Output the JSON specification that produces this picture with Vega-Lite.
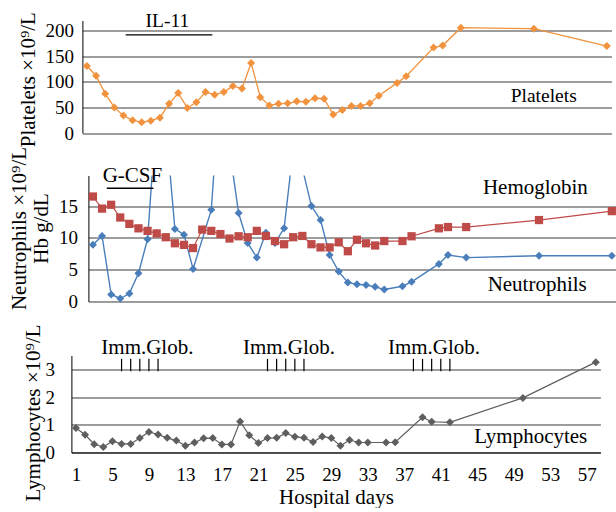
{
  "$schema": "https://vega.github.io/schema/vega-lite/v6.json",
  "background": "white",
  "padding": {"left": 8.4, "top": 10.5, "right": 0, "bottom": 0},
  "bounds": "flush",
  "spacing": 0,
  "config": {
    "font": "Liberation Serif",
    "view": {"stroke": null},
    "axis": {
      "labelFont": "Liberation Serif", "titleFont": "Liberation Serif",
      "labelFontSize": 19, "titleFontSize": 21, "titleFontWeight": "normal",
      "labelColor": "black", "titleColor": "black",
      "domainColor": "black", "domainWidth": 1,
      "gridColor": "#3a3a3a", "gridWidth": 1, "gridOpacity": 1,
      "tickColor": "black", "labelOverlap": false
    },
    "text": {"font": "Liberation Serif", "fontSize": 21, "color": "black"}
  },
  "datasets": {
    "platelets": [
      {"day": 1, "value": 131}, {"day": 2, "value": 112}, {"day": 3, "value": 77}, {"day": 4, "value": 50},
      {"day": 5, "value": 34}, {"day": 6, "value": 25}, {"day": 7, "value": 21}, {"day": 8, "value": 24},
      {"day": 9, "value": 30}, {"day": 10, "value": 57}, {"day": 11, "value": 78}, {"day": 12, "value": 49},
      {"day": 13, "value": 60}, {"day": 14, "value": 80}, {"day": 15, "value": 75}, {"day": 16, "value": 80},
      {"day": 17, "value": 92}, {"day": 18, "value": 87}, {"day": 19, "value": 137}, {"day": 20, "value": 70},
      {"day": 21, "value": 54}, {"day": 22, "value": 57}, {"day": 23, "value": 58}, {"day": 24, "value": 62},
      {"day": 25, "value": 61}, {"day": 26, "value": 68}, {"day": 27, "value": 67}, {"day": 28, "value": 36},
      {"day": 29, "value": 45}, {"day": 30, "value": 53}, {"day": 31, "value": 53}, {"day": 32, "value": 58},
      {"day": 33, "value": 73}, {"day": 35, "value": 98}, {"day": 36, "value": 111}, {"day": 39, "value": 167},
      {"day": 40, "value": 171}, {"day": 42, "value": 206}, {"day": 50, "value": 204}, {"day": 58, "value": 170}
    ],
    "neutrophils": [
      {"day": 1, "value": 8.9}, {"day": 2, "value": 10.3}, {"day": 3, "value": 1.1}, {"day": 4, "value": 0.47},
      {"day": 5, "value": 1.25}, {"day": 6, "value": 4.45}, {"day": 7, "value": 9.8}, {"day": 8, "value": 30},
      {"day": 9, "value": 28}, {"day": 10, "value": 11.4}, {"day": 11, "value": 10.5}, {"day": 12, "value": 5.1},
      {"day": 14, "value": 14.4}, {"day": 15, "value": 35}, {"day": 16, "value": 24}, {"day": 17, "value": 13.9},
      {"day": 18, "value": 9.2}, {"day": 19, "value": 6.9}, {"day": 20, "value": 10.8}, {"day": 21, "value": 9.2},
      {"day": 22, "value": 11.5}, {"day": 23, "value": 24}, {"day": 24, "value": 21}, {"day": 25, "value": 15.0},
      {"day": 26, "value": 12.8}, {"day": 27, "value": 7.3}, {"day": 28, "value": 4.7}, {"day": 29, "value": 3.0},
      {"day": 30, "value": 2.7}, {"day": 31, "value": 2.6}, {"day": 32, "value": 2.3}, {"day": 33, "value": 1.9},
      {"day": 35, "value": 2.4}, {"day": 36, "value": 3.1}, {"day": 39, "value": 5.9}, {"day": 40, "value": 7.3},
      {"day": 42, "value": 6.9}, {"day": 50, "value": 7.2}, {"day": 58, "value": 7.2}
    ],
    "hb": [
      {"day": 1, "value": 16.5}, {"day": 2, "value": 14.6}, {"day": 3, "value": 15.2}, {"day": 4, "value": 13.2},
      {"day": 5, "value": 12.2}, {"day": 6, "value": 11.5}, {"day": 7, "value": 11.1}, {"day": 8, "value": 10.7},
      {"day": 9, "value": 10.1}, {"day": 10, "value": 9.15}, {"day": 11, "value": 8.9}, {"day": 12, "value": 8.4},
      {"day": 13, "value": 11.3}, {"day": 14, "value": 11.1}, {"day": 15, "value": 10.6}, {"day": 16, "value": 9.9},
      {"day": 17, "value": 10.25}, {"day": 18, "value": 10.1}, {"day": 19, "value": 11.1}, {"day": 20, "value": 10.3},
      {"day": 21, "value": 9.5}, {"day": 22, "value": 9.0}, {"day": 23, "value": 10.1}, {"day": 24, "value": 10.3},
      {"day": 25, "value": 9.0}, {"day": 26, "value": 8.5}, {"day": 27, "value": 8.5}, {"day": 28, "value": 9.3},
      {"day": 29, "value": 7.9}, {"day": 30, "value": 9.7}, {"day": 31, "value": 9.15}, {"day": 32, "value": 8.8},
      {"day": 33, "value": 9.5}, {"day": 35, "value": 9.5}, {"day": 36, "value": 10.25}, {"day": 39, "value": 11.5},
      {"day": 40, "value": 11.7}, {"day": 42, "value": 11.7}, {"day": 50, "value": 12.8}, {"day": 58, "value": 14.2}
    ],
    "lymphocytes": [
      {"day": 1, "value": 0.88}, {"day": 2, "value": 0.64}, {"day": 3, "value": 0.3}, {"day": 4, "value": 0.2},
      {"day": 5, "value": 0.41}, {"day": 6, "value": 0.31}, {"day": 7, "value": 0.31}, {"day": 8, "value": 0.52},
      {"day": 9, "value": 0.74}, {"day": 10, "value": 0.65}, {"day": 11, "value": 0.53}, {"day": 12, "value": 0.43},
      {"day": 13, "value": 0.24}, {"day": 14, "value": 0.36}, {"day": 15, "value": 0.51}, {"day": 16, "value": 0.52},
      {"day": 17, "value": 0.29}, {"day": 18, "value": 0.29}, {"day": 19, "value": 1.12}, {"day": 20, "value": 0.62},
      {"day": 21, "value": 0.34}, {"day": 22, "value": 0.52}, {"day": 23, "value": 0.53}, {"day": 24, "value": 0.7},
      {"day": 25, "value": 0.57}, {"day": 26, "value": 0.53}, {"day": 27, "value": 0.38}, {"day": 28, "value": 0.58},
      {"day": 29, "value": 0.52}, {"day": 30, "value": 0.24}, {"day": 31, "value": 0.45}, {"day": 32, "value": 0.36},
      {"day": 33, "value": 0.36}, {"day": 35, "value": 0.36}, {"day": 36, "value": 0.37}, {"day": 39, "value": 1.27},
      {"day": 40, "value": 1.11}, {"day": 42, "value": 1.09}, {"day": 50, "value": 1.97}, {"day": 58, "value": 3.26}
    ],
    "topNotes": [
      {"label": "IL-11", "day": 9.82, "value": 219.6},
      {"label": "Platelets", "day": 51.08, "value": 71.6}
    ],
    "topBars": [{"start": 5.25, "end": 14.75, "value": 192}],
    "midNotes": [
      {"label": "G-CSF", "day": 5.33, "value": 19.75},
      {"label": "Hemoglobin", "day": 49.6, "value": 17.8},
      {"label": "Neutrophils", "day": 49.8, "value": 2.65}
    ],
    "midBars": [{"start": 2.52, "end": 7.64, "value": 17.8}],
    "botNotes": [
      {"label": "Imm.Glob.", "day": 8.83, "value": 3.77},
      {"label": "Imm.Glob.", "day": 24.36, "value": 3.77},
      {"label": "Imm.Glob.", "day": 40.26, "value": 3.77},
      {"label": "Lymphocytes", "day": 50.86, "value": 0.57}
    ],
    "immTicks": [
      {"day": 6, "lo": 2.93, "hi": 3.38}, {"day": 7, "lo": 2.93, "hi": 3.38}, {"day": 8, "lo": 2.93, "hi": 3.38},
      {"day": 9, "lo": 2.93, "hi": 3.38}, {"day": 10, "lo": 2.93, "hi": 3.38},
      {"day": 22, "lo": 2.93, "hi": 3.38}, {"day": 23, "lo": 2.93, "hi": 3.38}, {"day": 24, "lo": 2.93, "hi": 3.38},
      {"day": 25, "lo": 2.93, "hi": 3.38}, {"day": 26, "lo": 2.93, "hi": 3.38},
      {"day": 38, "lo": 2.93, "hi": 3.38}, {"day": 39, "lo": 2.93, "hi": 3.38}, {"day": 40, "lo": 2.93, "hi": 3.38},
      {"day": 41, "lo": 2.93, "hi": 3.38}, {"day": 42, "lo": 2.93, "hi": 3.38}
    ]
  },
  "vconcat": [
    {
      "width": 545, "height": 154.9,
      "layer": [
        {
          "data": {"name": "platelets"},
          "mark": {"type": "line", "color": "#F0923E", "strokeWidth": 1.3,
                   "point": {"shape": "diamond", "size": 64, "filled": true, "color": "#F0923E", "opacity": 1}},
          "encoding": {
            "x": {"field": "day", "type": "quantitative",
                  "scale": {"domain": [0.5, 58.5], "range": [11, 540], "nice": false, "zero": false},
                  "axis": null},
            "y": {"field": "value", "type": "quantitative",
                  "scale": {"domain": [0, 220], "range": [112.5, 0], "nice": false},
                  "axis": {"values": [0, 50, 100, 150, 200], "tickCount": 20, "format": "d", "grid": true, "ticks": false, "tickSize": 0,
                           "offset": -11, "labelPadding": 9, "title": "Platelets ×10⁹/L", "titleX": -44, "titleY": 58.7}}
          }
        },
        {
          "data": {"name": "topBars"},
          "mark": {"type": "rule", "color": "black", "strokeWidth": 1.3},
          "encoding": {
            "x": {"field": "start", "type": "quantitative"},
            "x2": {"field": "end"},
            "y": {"field": "value", "type": "quantitative"}
          }
        },
        {
          "data": {"name": "topNotes"},
          "mark": {"type": "text", "baseline": "middle", "align": "center", "fontSize": 19.5},
          "encoding": {
            "x": {"field": "day", "type": "quantitative"},
            "y": {"field": "value", "type": "quantitative"},
            "text": {"field": "label"}
          }
        }
      ]
    },
    {
      "width": 545, "height": 179.8,
      "layer": [
        {
          "data": {"name": "neutrophils"},
          "mark": {"type": "line", "color": "#4A7EBB", "strokeWidth": 1.4, "clip": true,
                   "point": {"shape": "diamond", "size": 64, "filled": true, "color": "#4A7EBB", "opacity": 1}},
          "encoding": {
            "x": {"field": "day", "type": "quantitative",
                  "scale": {"domain": [0.5, 58.5], "range": [17, 545], "nice": false, "zero": false},
                  "axis": null},
            "y": {"field": "value", "type": "quantitative",
                  "scale": {"domain": [0, 19.8], "range": [126, 0], "nice": false},
                  "axis": {"values": [0, 5, 10, 15], "tickCount": 20, "format": "d", "grid": true, "ticks": false, "tickSize": 0,
                           "offset": -17, "labelPadding": 11, "title": ["Neutrophils ×10⁹/L", "Hb g/dL"],
                           "titleLineHeight": 22, "titleX": -59, "titleY": 52.5}}
          }
        },
        {
          "data": {"name": "hb"},
          "mark": {"type": "line", "color": "#BE4B48", "strokeWidth": 1.2,
                   "point": {"shape": "square", "size": 68, "filled": true, "color": "#BE4B48", "opacity": 1}},
          "encoding": {
            "x": {"field": "day", "type": "quantitative"},
            "y": {"field": "value", "type": "quantitative"}
          }
        },
        {
          "data": {"name": "midBars"},
          "mark": {"type": "rule", "color": "black", "strokeWidth": 1.3},
          "encoding": {
            "x": {"field": "start", "type": "quantitative"},
            "x2": {"field": "end"},
            "y": {"field": "value", "type": "quantitative"}
          }
        },
        {
          "data": {"name": "midNotes"},
          "mark": {"type": "text", "baseline": "middle", "align": "center"},
          "encoding": {
            "x": {"field": "day", "type": "quantitative"},
            "y": {"field": "value", "type": "quantitative"},
            "text": {"field": "label"}
          }
        }
      ]
    },
    {
      "width": 545, "height": 97,
      "layer": [
        {
          "data": {"name": "lymphocytes"},
          "mark": {"type": "line", "color": "#5E5E5E", "strokeWidth": 1.2,
                   "point": {"shape": "diamond", "size": 64, "filled": true, "color": "#5E5E5E", "opacity": 1}},
          "encoding": {
            "x": {"field": "day", "type": "quantitative",
                  "scale": {"domain": [0.5, 58.5], "range": [0, 529], "nice": false, "zero": false},
                  "axis": {"tickCount": 116, "grid": false, "tickSize": 4, "labelPadding": 9.5,
                           "labelFlush": false, "format": "d",
                           "labelExpr": "datum.value % 4 == 1 ? datum.label : ''",
                           "tickOpacity": {"condition": {"test": "datum.value % 1 == 0", "value": 0}, "value": 1},
                           "title": "Hospital days", "titleY": 34}},
            "y": {"field": "value", "type": "quantitative",
                  "scale": {"domain": [0, 3.5], "nice": false},
                  "axis": {"values": [0, 1, 2, 3], "tickCount": 20, "format": "d", "grid": true, "ticks": false, "tickSize": 0,
                           "labelPadding": 17, "title": "Lymphocytes ×10⁹/L", "titleX": -28, "titleY": 57}}
          }
        },
        {
          "data": {"name": "immTicks"},
          "mark": {"type": "rule", "color": "black", "strokeWidth": 1.2},
          "encoding": {
            "x": {"field": "day", "type": "quantitative"},
            "y": {"field": "lo", "type": "quantitative"},
            "y2": {"field": "hi"}
          }
        },
        {
          "data": {"name": "botNotes"},
          "mark": {"type": "text", "baseline": "middle", "align": "center"},
          "encoding": {
            "x": {"field": "day", "type": "quantitative"},
            "y": {"field": "value", "type": "quantitative"},
            "text": {"field": "label"}
          }
        }
      ]
    }
  ]
}
